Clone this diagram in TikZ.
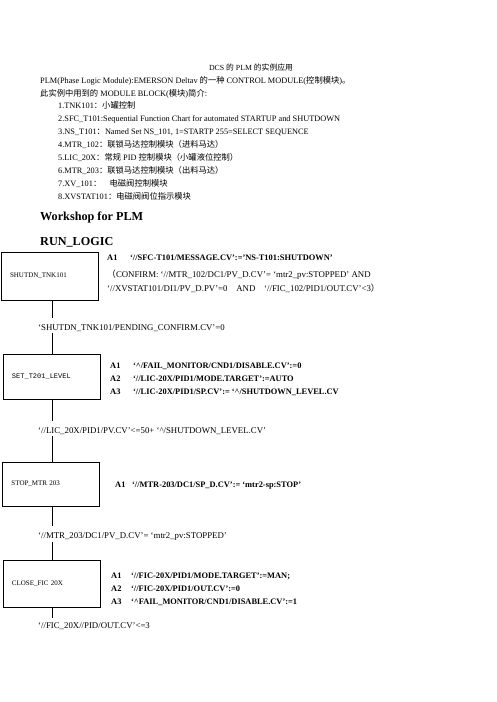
\documentclass[tikz,border=0pt]{standalone}
\usepackage{fontspec}
\setmainfont{Liberation Serif}
\setmonofont{Liberation Mono}
\newfontfamily\cjk{Noto Sans CJK SC}
\newcommand{\zh}[1]{{\cjk #1}}
\tikzset{%
    txt/.style={anchor=base west, inner sep=0pt, font=\fontsize{8.3}{10}\selectfont},
    cond/.style={txt, font=\fontsize{8.8}{10}\selectfont},
    act/.style={txt, font=\fontsize{8.4}{10}\selectfont\bfseries},
    head/.style={txt, font=\fontsize{12.2}{14}\selectfont\bfseries},
    stepbox/.style={draw, line width=0.7pt, inner xsep=9pt, inner ysep=0pt,
        minimum width=97pt, text width=79pt, align=left, font=\fontsize{7}{9}\selectfont},
    link/.style={line width=0.7pt}
}

\begin{document}
\begin{tikzpicture}[x=1pt,y=-1pt]
    \useasboundingbox (0,0) rectangle (496,702);
    % heading lines
    \node[txt, anchor=base, font=\fontsize{7.8}{10}\selectfont] (title) at (251,70) {DCS \zh{的} PLM \zh{的实例应用}};
    \node[txt] (intro) at (40,83) {PLM(Phase Logic Module):EMERSON Deltav \zh{的一种} CONTROL MODULE(\zh{控制模块})\zh{。}};
    \node[txt] (blocks) at (40,96) {\zh{此实例中用到的} MODULE BLOCK(\zh{模块})\zh{简介}:};
    \node[txt] (item1) at (58,108) {1.TNK101\zh{：小罐控制}};
    \node[txt] (item2) at (58,121) {2.SFC\_T101:Sequential Function Chart for automated STARTUP and SHUTDOWN};
    \node[txt] (item3) at (58,134) {3.NS\_T101\zh{：}Named Set NS\_101, 1=STARTP 255=SELECT SEQUENCE};
    \node[txt] (item4) at (58,147) {4.MTR\_102\zh{：联锁马达控制模块（进料马达）}};
    \node[txt] (item5) at (58,160) {5.LIC\_20X\zh{：常规} PID \zh{控制模块（小罐液位控制）}};
    \node[txt] (item6) at (58,173) {6.MTR\_203\zh{：联锁马达控制模块（出料马达）}};
    \node[txt] (item7) at (58,186) {7.XV\_101\zh{：}\quad\zh{电磁阀控制模块}};
    \node[txt] (item8) at (58,199) {8.XVSTAT101\zh{：电磁阀阀位指示模块}};
    \node[head] (workshop) at (40,220) {Workshop for PLM};
    \node[head] (runlogic) at (40,245) {RUN\_LOGIC};

    % steps
    \node[stepbox, minimum height=48pt] (shutdn) at (49.5,276) {SHUTDN\_TNK101};
    \node[stepbox, minimum height=45pt, font=\fontsize{7}{9}\selectfont\ttfamily] (level) at (51.5,376.5) {SET\_T201\_LEVEL};
    \node[stepbox, minimum height=44pt] (stopmtr) at (51,484) {STOP\_MTR 203};
    \node[stepbox, minimum height=47pt] (closefic) at (51.5,583.5) {CLOSE\_FIC 20X};

    % actions
    \node[act] (a1shut) at (107,260) {A1};
    \node[act] (a1shutx) at (130,260) {‘//SFC-T101/MESSAGE.CV’:=’NS-T101:SHUTDOWN’};
    \node[cond] (confirm) at (107,277) {\zh{（}CONFIRM: ‘//MTR\_102/DC1/PV\_D.CV’= ‘mtr2\_pv:STOPPED’ AND};
    \node[cond] (confirmb) at (107,291) {‘//XVSTAT101/DI1/PV\_D.PV’=0\quad AND\quad ‘//FIC\_102/PID1/OUT.CV’<3\zh{）}};

    \node[act] (a1lev) at (110,368) {A1};
    \node[act] (a1levx) at (133,368) {‘\textasciicircum/FAIL\_MONITOR/CND1/DISABLE.CV’:=0};
    \node[act] (a2lev) at (110,381) {A2};
    \node[act] (a2levx) at (133,381) {‘//LIC-20X/PID1/MODE.TARGET’:=AUTO};
    \node[act] (a3lev) at (110,394) {A3};
    \node[act] (a3levx) at (133,394) {‘//LIC-20X/PID1/SP.CV’:= ‘\textasciicircum/SHUTDOWN\_LEVEL.CV};

    \node[act] (a1stop) at (115,487) {A1};
    \node[act] (a1stopx) at (132,487) {‘//MTR-203/DC1/SP\_D.CV’:= ‘mtr2-sp:STOP’};

    \node[act] (a1fic) at (111,578) {A1};
    \node[act] (a1ficx) at (131,578) {‘//FIC-20X/PID1/MODE.TARGET’:=MAN;};
    \node[act] (a2fic) at (111,591) {A2};
    \node[act] (a2ficx) at (131,591) {‘//FIC-20X/PID1/OUT.CV’:=0};
    \node[act] (a3fic) at (111,604) {A3};
    \node[act] (a3ficx) at (131,604) {‘\textasciicircum FAIL\_MONITOR/CND1/DISABLE.CV’:=1};

    % transitions
    \node[cond] (cond1) at (38,330) {‘SHUTDN\_TNK101/PENDING\_CONFIRM.CV’=0};
    \node[cond] (cond2) at (38,433) {‘//LIC\_20X/PID1/PV.CV’<=50+ ‘\textasciicircum/SHUTDOWN\_LEVEL.CV’};
    \node[cond] (cond3) at (38,538) {‘//MTR\_203/DC1/PV\_D.CV’= ‘mtr2\_pv:STOPPED’};
    \node[cond] (cond4) at (38,628) {‘//FIC\_20X//PID/OUT.CV’<=3};

    \coordinate (spine) at (52,0);
    \draw[link] (shutdn.south -| spine) -- ([yshift=6pt]cond1.north -| spine);
    \draw[link] ([yshift=-2pt]cond1.south -| spine) -- (level.north -| spine);
    \draw[link] (level.south -| spine) -- ([yshift=6pt]cond2.north -| spine);
    \draw[link] ([yshift=-2pt]cond2.south -| spine) -- (stopmtr.north -| spine);
    \draw[link] (stopmtr.south -| spine) -- ([yshift=6pt]cond3.north -| spine);
    \draw[link] ([yshift=-2pt]cond3.south -| spine) -- (closefic.north -| spine);
    \draw[link] (closefic.south -| spine) -- ([yshift=4pt]cond4.north -| spine);
\end{tikzpicture}
\end{document}
